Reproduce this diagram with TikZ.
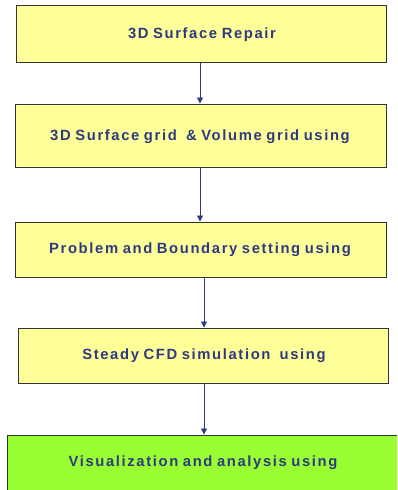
\documentclass[tikz,border=0pt]{standalone}
\usepackage{fontspec}
\setmainfont{Liberation Sans}
\newfontfamily\lblfont[LetterSpace=11,WordSpace=0.8]{Liberation Sans}
\usetikzlibrary{arrows.meta}
\definecolor{boxyellow}{HTML}{FFFF99}
\definecolor{boxgreen}{HTML}{99FF33}
\definecolor{navy}{HTML}{2E3A80}
\definecolor{edge}{HTML}{333333}
\begin{document}
\begin{tikzpicture}[x=1pt,y=1pt,
  stepbox/.style={draw=edge,line width=1pt,fill=boxyellow,inner sep=0pt},
  lbl/.style={font=\lblfont\bfseries\fontsize{14.8}{16}\selectfont,text=navy},
  conn/.style={draw=navy,line width=0.8pt,-{Triangle[length=6pt,width=6pt]}}]
\clip (0,0) rectangle (397,-490);
\fill[white] (0,0) rectangle (397,-490);
% boxes
\path[stepbox] (16,-5) rectangle (386,-62);
\node[lbl] (t1) at (202,-34.5) {3D Surface Repair};
\coordinate (b1) at (200,-62.5);
\path[stepbox] (15,-104) rectangle (386,-167);
\node[lbl] (t2) at (200,-137) {3D Surface grid \ \& Volume grid using};
\coordinate (a2) at (200,-103.5);
\coordinate (b2) at (200,-167.5);
\path[stepbox] (15,-222) rectangle (386,-277);
\node[lbl] (t3) at (200,-249.5) {Problem and Boundary setting using};
\coordinate (a3) at (200,-221.5);
\coordinate (b3) at (204,-277.5);
\path[stepbox] (18,-328) rectangle (388,-383);
\node[lbl] (t4) at (204,-356) {Steady CFD simulation \ using};
\coordinate (a4) at (204,-327.5);
\coordinate (b4) at (204,-383.5);
\path[stepbox,fill=boxgreen] (7,-435) rectangle (402,-500);
\node[lbl] (t5) at (203,-462.5) {Visualization and analysis using};
\coordinate (a5) at (204,-434.5);
% connectors
\draw[conn] (b1) -- (a2);
\draw[conn] (b2) -- (a3);
\draw[conn] (b3) -- (a4);
\draw[conn] (b4) -- (a5);
\end{tikzpicture}
\end{document}
